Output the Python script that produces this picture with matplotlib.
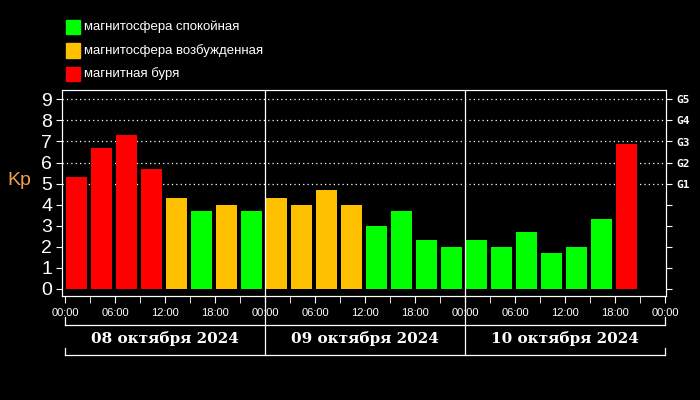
import matplotlib
matplotlib.use('Agg')
import matplotlib.pyplot as plt
import matplotlib.transforms as mtransforms
from matplotlib.patches import Rectangle

kp = [5.3, 6.7, 7.3, 5.7, 4.3, 3.7, 4.0, 3.7,
      4.3, 4.0, 4.7, 4.0, 3.0, 3.7, 2.3, 2.0,
      2.3, 2.0, 2.7, 1.7, 2.0, 3.3, 6.9]
days = ['08 октября 2024', '09 октября 2024', '10 октября 2024']
hour_labels = ['00:00', '06:00', '12:00', '18:00']
g_levels = [5, 6, 7, 8, 9]
g_labels = ['G1', 'G2', 'G3', 'G4', 'G5']
legend = [('#00ff00', 'магнитосфера спокойная'),
          ('#ffc000', 'магнитосфера возбужденная'),
          ('#ff0000', 'магнитная буря')]

def color(v):
    if v >= 5:
        return '#ff0000'
    if v >= 4:
        return '#ffc000'
    return '#00ff00'

fig = plt.figure(figsize=(7, 4), dpi=100, facecolor='black')
ax = fig.add_axes([62/700, 0.26, 604/700, 206/400], facecolor='black')

for i, v in enumerate(kp):
    ax.bar(3*i + 0.12, v, width=2.45, align='edge', color=color(v), zorder=2)

ax.set_xlim(-0.4, 72.1)
ax.set_ylim(-0.35, 9.45)
for y in range(5, 10):
    ax.axhline(y, color='white', ls=(0, (1, 2.5)), lw=0.9, zorder=1)

for s in ax.spines.values():
    s.set_color('white')

ax.set_yticks(range(10))
ax.set_yticklabels([str(i) for i in range(10)], color='white', fontsize=14,
                   family='Liberation Sans')
ax.tick_params(axis='y', colors='white', length=4, pad=3)

xt = list(range(0, 73, 6))
ax.set_xticks(xt)
ax.set_xticklabels([hour_labels[(h % 24)//6] for h in xt], color='white',
                   fontsize=8, family='Liberation Sans')
ax.set_xticks(range(0, 73, 3), minor=True)
ax.tick_params(axis='x', which='both', colors='white', length=5, pad=4)

ax2 = ax.twinx()
ax2.set_ylim(ax.get_ylim())
ax2.set_yticks(range(10))
ax2.set_yticklabels(['']*5 + g_labels, color='white', fontsize=8,
                    family='DejaVu Sans Mono', fontweight='bold')
ax2.tick_params(axis='y', colors='white', length=4)
for s in ax2.spines.values():
    s.set_color('white')

ax.set_ylabel('Kp', color='#f0a050', fontsize=14, rotation=0,
              family='Liberation Sans', labelpad=14)
ax.yaxis.set_label_coords(-0.07, 0.52)

tr = mtransforms.blended_transform_factory(ax.transData, ax.transAxes)
for d in (24, 48):
    ax.plot([d, d], [0, 1], color='white', lw=0.9, transform=tr, zorder=3)
    ax.plot([d, d], [0, -0.286], color='white', lw=0.9, transform=tr, clip_on=False)
ax.plot([0, 72], [-0.141, -0.141], color='white', lw=0.9, transform=tr, clip_on=False)
ax.plot([0, 72], [-0.286, -0.286], color='white', lw=0.9, transform=tr, clip_on=False)
for x0 in (0, 72):
    ax.plot([x0, x0], [-0.102, -0.141], color='white', lw=0.9, transform=tr, clip_on=False)
    ax.plot([x0, x0], [-0.252, -0.286], color='white', lw=0.9, transform=tr, clip_on=False)
for i, d in enumerate(days):
    ax.text(24*i + 12, -0.207, d, color='white', fontsize=11, fontweight='bold',
            ha='center', va='center', transform=tr, family='DejaVu Serif')

for j, (c, t) in enumerate(legend):
    y = 1 - (27 + 23.5*j)/400
    fig.patches.append(Rectangle((66/700, y - 7/400), 14/700, 14/400,
                                 transform=fig.transFigure, color=c))
    fig.text(84/700, y, t, color='white', fontsize=9.5, va='center',
             family='Liberation Sans')

fig.savefig('out.png', dpi=100, facecolor='black')
